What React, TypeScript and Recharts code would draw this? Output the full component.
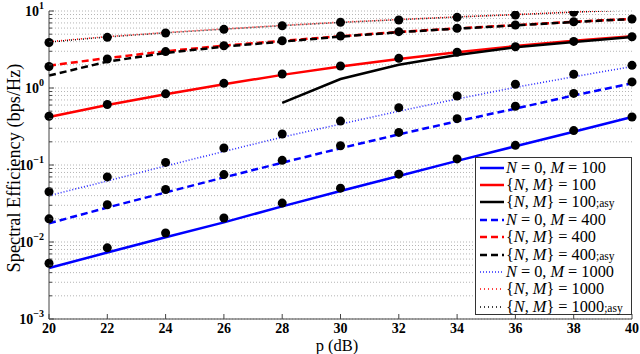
import { LineChart, Line, XAxis, YAxis, CartesianGrid } from 'recharts'

const pdB = [20, 22, 24, 26, 28, 30, 32, 34, 36, 38, 40]

// analytical curves
const n0m100 = [0.0046, 0.0073, 0.0115, 0.018, 0.029, 0.046, 0.072, 0.113, 0.175, 0.27, 0.42]
const nm100 = [0.42, 0.6, 0.83, 1.12, 1.48, 1.9, 2.38, 2.92, 3.5, 4.1, 4.7]
const nm100asy = [null, null, null, null, 0.64, 1.31, 2.0, 2.68, 3.38, 3.95, 4.6]
const n0m400 = [0.0175, 0.028, 0.044, 0.069, 0.107, 0.165, 0.25, 0.37, 0.54, 0.8, 1.15]
const nm400 = [1.95, 2.45, 3.0, 3.55, 4.1, 4.7, 5.35, 5.95, 6.55, 7.25, 7.9]
const nm400asy = [1.45, 2.2, 2.85, 3.45, 4.0, 4.65, 5.3, 5.9, 6.5, 7.2, 7.85]
const n0m1000 = [0.04, 0.062, 0.097, 0.15, 0.23, 0.34, 0.5, 0.72, 1.02, 1.4, 1.9]
const nm1000 = [4.0, 4.65, 5.25, 5.85, 6.5, 7.15, 7.75, 8.4, 9.0, 9.7, 10.4]
const nm1000asy = [3.95, 4.6, 5.2, 5.8, 6.45, 7.1, 7.7, 8.35, 8.95, 9.65, 10.35]

// simulation markers
const simN0M100 = [0.0053, 0.0084, 0.0131, 0.0205, 0.032, 0.05, 0.076, 0.12, 0.18, 0.28, 0.42]
const simN0M400 = [0.02, 0.0305, 0.048, 0.075, 0.115, 0.178, 0.265, 0.4, 0.58, 0.85, 1.2]
const simN0M1000 = [0.045, 0.07, 0.108, 0.166, 0.253, 0.372, 0.555, 0.787, 1.12, 1.51, 1.97]
const simNM100 = [0.43, 0.61, 0.84, 1.15, 1.52, 1.93, 2.43, 2.91, 3.43, 4.03, 4.63]
const simNM400 = [1.9, 2.38, 2.97, 3.54, 4.11, 4.73, 5.39, 5.96, 6.58, 7.26, 7.87]
const simNM1000 = [3.9, 4.55, 5.18, 5.78, 6.44, 7.13, 7.64, 8.28, 8.87, 9.62, null]

const xTicks = [20, 22, 24, 26, 28, 30, 32, 34, 36, 38, 40]
const yTicks = [
  0.001, 0.002, 0.003, 0.004, 0.005, 0.006, 0.007, 0.008, 0.009,
  0.01, 0.02, 0.03, 0.04, 0.05, 0.06, 0.07, 0.08, 0.09,
  0.1, 0.2, 0.3, 0.4, 0.5, 0.6, 0.7, 0.8, 0.9,
  1, 2, 3, 4, 5, 6, 7, 8, 9, 10,
]

const data = pdB.map((p, i) => ({
  p,
  n0m100: n0m100[i], nm100: nm100[i], nm100asy: nm100asy[i],
  n0m400: n0m400[i], nm400: nm400[i], nm400asy: nm400asy[i],
  n0m1000: n0m1000[i], nm1000: nm1000[i], nm1000asy: nm1000asy[i],
  s1: simN0M100[i], s2: simN0M400[i], s3: simN0M1000[i],
  s4: simNM100[i], s5: simNM400[i], s6: simNM1000[i],
}))

const SERIF = '"Liberation Serif", "DejaVu Serif", serif'
const AXIS = '#444'

const BLUE = '#0000ff'
const RED = '#ff0000'
const BLACK = '#000000'
const DASH = '7 4'
const DOT = '1 2'

const series = [
  { key: 'n0m100', color: BLUE, dash: undefined, w: 2.5 },
  { key: 'nm100', color: RED, dash: undefined, w: 2.5 },
  { key: 'nm100asy', color: BLACK, dash: undefined, w: 2.5 },
  { key: 'n0m400', color: BLUE, dash: DASH, w: 2.5 },
  { key: 'nm400', color: RED, dash: DASH, w: 2.5 },
  { key: 'nm400asy', color: BLACK, dash: DASH, w: 2.5 },
  { key: 'n0m1000', color: '#2a2aff', dash: DOT, w: 1.6 },
  { key: 'nm1000', color: RED, dash: '1 3', w: 1.6 },
  { key: 'nm1000asy', color: BLACK, dash: '1 3', w: 1.6, offset: 2 },
]

const simKeys = ['s1', 's2', 's3', 's4', 's5', 's6']

const M = ({ c }: { c: string }) => <i>{c}</i>
const asy = <span style={{ fontSize: 11.5 }}>;asy</span>

const legendLabels = [
  <><M c="N" /> = 0, <M c="M" /> = 100</>,
  <>{'{'}<M c="N" />, <M c="M" />{'}'} = 100</>,
  <>{'{'}<M c="N" />, <M c="M" />{'}'} = 100{asy}</>,
  <><M c="N" /> = 0, <M c="M" /> = 400</>,
  <>{'{'}<M c="N" />, <M c="M" />{'}'} = 400</>,
  <>{'{'}<M c="N" />, <M c="M" />{'}'} = 400{asy}</>,
  <><M c="N" /> = 0, <M c="M" /> = 1000</>,
  <>{'{'}<M c="N" />, <M c="M" />{'}'} = 1000</>,
  <>{'{'}<M c="N" />, <M c="M" />{'}'} = 1000{asy}</>,
]

const isDecade = (v: number) => Math.abs(Math.log10(v) - Math.round(Math.log10(v))) < 1e-9

function YTickLeft({ x, y, payload }: any) {
  const v = payload.value
  const major = isDecade(v)
  return (
    <g>
      <line x1={x} x2={x + (major ? 5 : 3)} y1={y} y2={y} stroke={AXIS} />
      {major && (
        <text x={x - 5} y={y + 5} textAnchor="end" fontFamily={SERIF} fontWeight="bold" fontSize={14} fill="#000">
          10
          <tspan dy={-7} fontSize={10}>{String(Math.round(Math.log10(v))).replace('-', '\u2212')}</tspan>
        </text>
      )}
    </g>
  )
}

function YTickRight({ x, y, payload }: any) {
  const major = isDecade(payload.value)
  return <line x1={x} x2={x - (major ? 5 : 3)} y1={y} y2={y} stroke={AXIS} />
}

function XTickBottom({ x, y, payload }: any) {
  return (
    <g>
      <line x1={x} x2={x} y1={y} y2={y - 5} stroke={AXIS} />
      <text x={x} y={y + 14} textAnchor="middle" fontFamily={SERIF} fontWeight="bold" fontSize={14} fill="#000">
        {payload.value}
      </text>
    </g>
  )
}

function XTickTop({ x, y }: any) {
  return <line x1={x} x2={x} y1={y} y2={y + 5} stroke={AXIS} />
}

export default function App() {
  return (
    <div style={{ position: 'absolute', left: 0, top: 0, width: 640, height: 354, background: '#fff', overflow: 'hidden' }}>
      <LineChart width={640} height={354} data={data} margin={{ top: 11, right: 8, bottom: 0, left: 0 }}>
        <CartesianGrid vertical={false} stroke="#b4b4b4" strokeDasharray="1 2" />
        <XAxis
          dataKey="p" type="number" domain={[20, 40]} ticks={xTicks} interval={0}
          height={35} tickSize={0} tickMargin={0} tickLine={false}
          axisLine={{ stroke: AXIS }} tick={<XTickBottom />}
        />
        <XAxis
          xAxisId="t" orientation="top" type="number" domain={[20, 40]} ticks={xTicks} interval={0}
          height={0} tickSize={0} tickMargin={0} tickLine={false}
          axisLine={{ stroke: AXIS }} tick={<XTickTop />}
        />
        <YAxis
          scale="log" domain={[0.001, 10]} allowDataOverflow ticks={yTicks} interval={0}
          width={49} tickSize={0} tickMargin={0} tickLine={false}
          axisLine={{ stroke: AXIS }} tick={<YTickLeft />}
        />
        <YAxis
          yAxisId="r" orientation="right" scale="log" domain={[0.001, 10]} allowDataOverflow ticks={yTicks} interval={0}
          width={0} tickSize={0} tickMargin={0} tickLine={false}
          axisLine={{ stroke: AXIS }} tick={<YTickRight />}
        />
        {series.map((s) => (
          <Line
            key={s.key}
            dataKey={s.key}
            type="linear"
            stroke={s.color}
            strokeWidth={s.w}
            strokeDasharray={s.dash}
            strokeDashoffset={s.offset}
            dot={false}
            activeDot={false}
            isAnimationActive={false}
          />
        ))}
        {simKeys.map((k) => (
          <Line
            key={k}
            dataKey={k}
            type="linear"
            stroke="none"
            strokeWidth={0}
            dot={{ r: 4.5, fill: '#000', stroke: '#000', strokeWidth: 0 }}
            activeDot={false}
            isAnimationActive={false}
          />
        ))}
      </LineChart>

      <div style={{ position: 'absolute', left: 0, top: 168, width: 0, height: 0 }}>
        <div
          style={{
            position: 'absolute', left: 14, top: 0, transform: 'translate(-50%, -50%) rotate(-90deg)',
            whiteSpace: 'nowrap', fontFamily: SERIF, fontSize: 18.3, lineHeight: 1, color: '#000',
          }}
        >
          Spectral Efficiency (bps/Hz)
        </div>
      </div>

      <div
        style={{
          position: 'absolute', left: 337, top: 345.5, transform: 'translate(-50%, -50%)',
          whiteSpace: 'nowrap', fontFamily: SERIF, fontSize: 16.5, lineHeight: 1, color: '#000',
        }}
      >
        p (dB)
      </div>

      <div
        style={{
          position: 'absolute', left: 475, top: 157, width: 157, height: 158, boxSizing: 'border-box',
          border: '1px solid #333', background: '#fff', padding: '1px 0 0 4px',
          fontFamily: SERIF, fontSize: 16.3, color: '#000',
        }}
      >
        {series.map((s, i) => (
          <div key={s.key} style={{ height: 17.4, display: 'flex', alignItems: 'center', whiteSpace: 'nowrap' }}>
            <svg width={24} height={8} style={{ marginRight: 2, flex: 'none' }}>
              <line x1={0} x2={24} y1={4} y2={4} stroke={s.color} strokeWidth={s.w} strokeDasharray={s.dash} />
            </svg>
            <span>{legendLabels[i]}</span>
          </div>
        ))}
      </div>
    </div>
  )
}
